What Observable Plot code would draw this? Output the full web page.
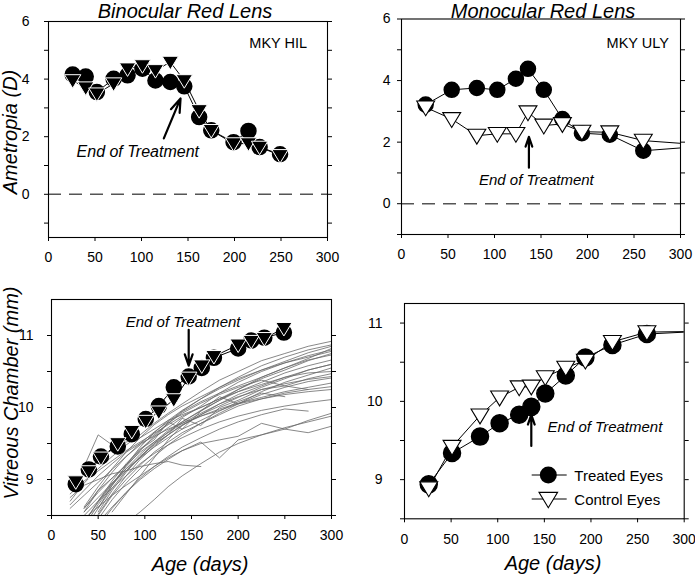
<!DOCTYPE html>
<html><head><meta charset="utf-8">
<script src="https://cdn.jsdelivr.net/npm/d3@7"></script>
<script src="https://cdn.jsdelivr.net/npm/@observablehq/plot@0.6"></script>
<style>
html,body{margin:0;padding:0;background:#fff;}
#wrap{position:relative;width:695px;height:579px;overflow:hidden;font-family:"Liberation Sans",Arial,sans-serif;color:#000;}
.lbl{position:absolute;white-space:nowrap;font-style:italic;line-height:1;transform:translate(-50%,-50%);}
.rot{transform:translate(-50%,-50%) rotate(-90deg);}
</style></head><body><div id="wrap"></div>
<script>
// ---------- tick labels ----------
const ageTicks = [0, 50, 100, 150, 200, 250, 300];
const ametropiaTicks = [0, 2, 4, 6];
const ametropiaMinorTicks = [-1, 1, 3, 5];
const vitreousTicks = [9, 10, 11];
const vitreousMinorTicks = [8.5, 9.5, 10.5];

// ---------- Binocular red lens (MKY HIL) : ametropia ----------
const binAmetAges = [26, 40, 52, 70, 85, 101, 115, 131, 146, 162, 175, 199, 215, 227, 249];
const binAmetTreated = [4.16, 4.09, 3.55, 4.01, 4.13, 4.36, 3.95, 3.90, 3.75, 2.68, 2.22, 1.81, 2.20, 1.64, 1.39];
const binAmetControl = [3.95, 3.70, 3.49, 3.84, 4.36, 4.47, 4.30, 4.59, 3.95, 2.91, 2.22, 1.76, 1.76, 1.64, 1.35];

// ---------- Monocular red lens (MKY ULY) : ametropia ----------
const monAmetAges = [26, 54, 81, 103, 123, 136, 153, 173, 194, 224, 260, 360];
const monAmetTreated = [3.22, 3.70, 3.76, 3.70, 4.06, 4.38, 3.70, 2.75, 2.29, 2.24, 1.72, 1.95];
const monAmetControl = [3.13, 2.75, 2.21, 2.27, 2.27, 2.97, 2.54, 2.59, 2.34, 2.32, 2.05, 1.83];

// ---------- Binocular : vitreous chamber ----------
const binVitAges = [26, 40, 53, 71, 86, 101, 115, 131, 147, 161, 174, 200, 214, 228, 249];
const binVitTreated = [8.935, 9.14, 9.32, 9.46, 9.63, 9.84, 10.02, 10.28, 10.43, 10.55, 10.69, 10.82, 10.93, 10.97, 11.04];
const binVitControl = [8.97, 9.11, 9.30, 9.50, 9.67, 9.81, 9.94, 10.11, 10.41, 10.58, 10.71, 10.87, 10.92, 10.96, 11.10];

// ---------- Monocular : vitreous chamber ----------
const monVitAges = [26, 51, 81, 102, 123, 136, 151, 173, 194, 223, 260, 360];
const monVitTreated = [8.94, 9.34, 9.55, 9.72, 9.83, 9.93, 10.10, 10.33, 10.56, 10.72, 10.86, 10.92];
const monVitControl = [8.89, 9.42, 9.82, 10.05, 10.18, 10.19, 10.31, 10.43, 10.52, 10.76, 10.885, 10.90];

// ---------- Normal monkeys (gray lines) : vitreous chamber ----------
const normalAges = [20, 35, 50, 65, 80, 95, 110, 125, 140, 160, 180, 200, 225, 250, 275, 300];
const normalEyes = [
  [8.70, 8.95, 9.15, 9.32, 9.48, 9.62, 9.78, 9.92, 10.05, 10.22, 10.38, 10.50, 10.65, 10.75, 10.85, 10.92],
  [null, 8.55, 8.85, 9.10, 9.32, 9.50, 9.66, 9.80, 9.95, 10.12, 10.28, 10.42, 10.58, 10.70, 10.80, 10.87],
  [null, 8.40, 8.70, 8.98, 9.22, 9.42, 9.58, 9.72, 9.86, 10.02, 10.20, 10.35, 10.50, 10.62, 10.72, 10.80],
  [null, 9.18, 9.62, 9.48, 9.52, 9.58, 9.70, 9.82, 9.90, 10.00, 10.12, 10.25, 10.40, 10.52, 10.65, 10.75],
  [null, null, 8.55, 8.85, 9.10, 9.32, 9.50, 9.66, 9.80, 9.96, 10.10, 10.25, 10.42, 10.55, 10.66, 10.73],
  [8.80, 8.98, 9.12, 9.26, 9.40, 9.52, 9.64, 9.76, 9.88, 10.00, 10.12, 10.22, 10.35, 10.48, 10.58, 10.66],
  [null, 8.35, 8.65, 8.92, 9.15, 9.35, 9.52, 9.68, 9.80, 9.95, 10.10, 10.22, 10.32, 10.42, 10.48, 10.50],
  [null, 8.60, 8.82, 9.02, 9.20, 9.38, 9.52, 9.65, 9.78, 9.92, 10.05, 10.15, 10.25, 10.33, 10.39, 10.43],
  [null, null, 8.45, 8.72, 8.95, 9.15, 9.32, 9.48, 9.62, 9.78, 9.92, 10.05, 10.18, 10.28, 10.36, 10.41],
  [null, null, 8.50, 8.78, 9.00, 9.20, 9.38, 9.52, 9.65, 9.78, 9.90, 10.02, 10.12, 10.20, 10.25, 10.29],
  [null, 8.50, 8.70, 8.88, 9.05, 9.22, 9.36, 9.48, 9.58, 9.70, 9.80, 9.88, 9.96, 10.02, 10.07, 10.11],
  [null, 8.45, 8.62, 8.78, 8.92, 9.05, 9.18, 9.30, 9.40, 9.52, 9.30, 9.55, 9.62, 9.70, 9.82, 9.92],
  [null, null, 8.40, 8.62, 8.82, 9.00, 9.15, 9.28, 9.40, 9.50, 9.55, 9.60, 9.78, 9.70, 9.65, 9.74],
  [8.75, 8.92, 9.00, 9.08, 9.12, 9.18, 9.22, 9.25, 9.20, 9.18, null, null, null, null, null, null],
  [null, 8.62, 8.90, 9.15, 9.38, 9.58, 9.76, 9.90, 10.02, 10.15, 10.28, 10.40, 10.52, 10.62, 10.70, 10.78],
  [null, null, 8.60, 8.92, 9.20, 9.45, 9.65, 9.82, 9.96, 10.12, 10.26, 10.38, 10.52, 10.64, 10.76, 10.85],
  [null, 8.30, 8.60, 8.88, 9.12, 9.32, 9.48, 9.62, 9.75, 9.90, 10.02, 10.14, 10.28, 10.40, 10.52, 10.60],
  [8.60, 8.78, 8.96, 9.14, 9.32, 9.48, 9.62, 9.78, 9.92, 10.06, 10.18, 10.28, 10.38, 10.30, 10.25, null],
  [null, null, 8.35, 8.60, 8.82, 9.02, 9.18, 9.32, 9.45, 9.58, 9.70, 9.80, 9.90, 9.98, 9.95, null],
  [null, 8.55, 8.75, 8.95, 9.12, 9.30, 9.45, 9.58, 9.70, 9.82, 9.95, 10.08, 10.20, 10.15, null, null],
  [null, null, 8.52, 8.80, 9.05, 9.28, 9.46, 9.62, 9.76, 9.88, 9.98, 10.06, 10.14, 10.22, 10.28, 10.34],
  [null, 8.42, 8.68, 8.94, 9.18, 9.40, 9.60, 9.78, 9.94, 10.08, 10.20, 10.30, 10.42, 10.55, 10.68, 10.82],
  [null, null, null, 8.55, 8.80, 9.05, 9.30, 9.55, 9.75, 9.90, 10.05, 10.18, 10.30, 10.42, 10.52, 10.60],
  [8.65, 8.85, 9.05, 9.22, 9.38, 9.50, 9.60, 9.70, 9.78, 9.88, 9.96, 10.05, 10.12, 10.18, 10.22, 10.25],
  [null, 8.60, 8.85, 9.02, 9.20, 9.42, 9.55, 9.80, 9.70, 9.95, 10.15, 10.05, 10.22, 10.35, 10.45, 10.55],
  [null, null, 8.70, 8.95, 9.15, 9.30, 9.50, 9.62, 9.85, 9.75, 10.00, 10.10, 10.25, 10.30, 10.40, 10.47],
  [null, null, null, null, 8.40, 8.55, 8.72, 8.90, 9.05, 9.22, 9.38, 9.50, 9.62, 9.72, 9.80, 9.88]
];

// ---------- annotations (data coordinates) ----------
const notes = {
  binAmet: {label: "End of Treatment", age: 96, v: 1.46, from: [124, 1.94], to: [142, 3.33], id: "MKY HIL", idAge: 247, idV: 5.24, size: 16},
  monAmet: {label: "End of Treatment", age: 145, v: 0.78, from: [137, 1.17], to: [137, 2.17], id: "MKY ULY", idAge: 254, idV: 5.22, size: 15},
  binVit: {label: "End of Treatment", age: 141, v: 11.18, from: [147, 11.08], to: [147, 10.58], size: 15},
  monVit: {label: "End of Treatment", age: 215, v: 9.67, from: [136, 9.43], to: [136, 9.83], size: 15}
};

// ---------- helpers ----------
const rows = (ages, vals) => ages.map((a, i) => ({age: a, v: vals[i]}));
const shown = d => d.filter(r => r.age <= 300);
const triangleDown = {
  draw(context, size) {
    const r = Math.sqrt(size / Math.PI);
    context.moveTo(-1.12 * r, -0.8 * r);
    context.lineTo(1.12 * r, -0.8 * r);
    context.lineTo(0, 1.05 * r);
    context.closePath();
  }
};
const normalRows = [];
normalEyes.forEach((vals, k) => vals.forEach((v, j) => { if (v != null) normalRows.push({age: normalAges[j], v, eye: k}); }));

const wrap = document.getElementById("wrap");
const FONT = "'Liberation Sans', Arial, sans-serif";
const plain = d => String(d);

function panel(o) {
  const svg = Plot.plot({
    width: o.width, height: o.height,
    marginLeft: o.ml, marginRight: o.mr, marginTop: o.mt, marginBottom: o.mb,
    x: {domain: [0, 300]},
    y: {domain: o.yDomain},
    style: {fontFamily: FONT, fontSize: "14px", color: "black", background: "transparent", overflow: "visible"},
    marks: [
      ...o.marks,
      Plot.axisX({ticks: ageTicks, tickSize: 4, tickPadding: 11, tickFormat: plain, label: null}),
      Plot.axisY({ticks: o.yMajor, tickSize: 4, tickPadding: o.yPad, tickFormat: plain, label: null}),
      Plot.axisY({ticks: o.yMinor, tickSize: 4, tickFormat: () => "", label: null}),
      Plot.axisY({anchor: "right", ticks: [...o.yMajor, ...o.yMinor], tickSize: 4, tickFormat: () => "", label: null}),
      Plot.frame({stroke: "black", strokeWidth: 1.1})
    ]
  });
  svg.style.position = "absolute";
  svg.style.left = o.left + "px";
  svg.style.top = o.top + "px";
  wrap.appendChild(svg);
}

function noteMarks(n) {
  const m = [
    Plot.arrow([n], {x1: d => d.from[0], y1: d => d.from[1], x2: d => d.to[0], y2: d => d.to[1],
      stroke: "black", strokeWidth: 2.2, headLength: 11, headAngle: 38}),
    Plot.text([n], {x: "age", y: "v", text: "label", fontStyle: "italic", fontSize: n.size, fill: "black"})
  ];
  if (n.id) m.push(Plot.text([n], {x: "idAge", y: "idV", text: "id", fontSize: 14.5, fill: "black"}));
  return m;
}

// Top-left: binocular ametropia
const bAT = rows(binAmetAges, binAmetTreated), bAC = rows(binAmetAges, binAmetControl);
panel({left: 0, top: 0, width: 340, height: 270, ml: 48, mr: 13, mt: 21, mb: 33,
  yDomain: [-1.5, 6], yMajor: ametropiaTicks, yMinor: ametropiaMinorTicks, yPad: 15,
  marks: [
    Plot.ruleY([0], {stroke: "#555", strokeWidth: 1.5, strokeDasharray: "13,8"}),
    Plot.line(bAT, {x: "age", y: "v", stroke: "black", strokeWidth: 1}),
    Plot.line(bAC, {x: "age", y: "v", stroke: "black", strokeWidth: 1}),
    Plot.dot(bAT, {x: "age", y: "v", r: 7.5, fill: "black", stroke: "black"}),
    Plot.dot(bAC, {x: "age", y: "v", r: 7.3, symbol: triangleDown, fill: "black", stroke: "white", strokeWidth: 1}),
    ...noteMarks(notes.binAmet)
  ]});

// Top-right: monocular ametropia
const mAT = rows(monAmetAges, monAmetTreated), mAC = rows(monAmetAges, monAmetControl);
panel({left: 345, top: 0, width: 345, height: 270, ml: 56, mr: 10, mt: 18.5, mb: 36,
  yDomain: [-1, 6], yMajor: ametropiaTicks, yMinor: ametropiaMinorTicks, yPad: 7,
  marks: [
    Plot.ruleY([0], {stroke: "#555", strokeWidth: 1.5, strokeDasharray: "13,8"}),
    Plot.line(mAT, {x: "age", y: "v", stroke: "black", strokeWidth: 1, clip: true}),
    Plot.line(mAC, {x: "age", y: "v", stroke: "black", strokeWidth: 1, clip: true}),
    Plot.dot(shown(mAT), {x: "age", y: "v", r: 7.5, fill: "black", stroke: "black"}),
    Plot.dot(shown(mAC), {x: "age", y: "v", r: 8, symbol: triangleDown, fill: "white", stroke: "black", strokeWidth: 1.1}),
    ...noteMarks(notes.monAmet)
  ]});

// Bottom-left: binocular vitreous chamber + normals
const bVT = rows(binVitAges, binVitTreated), bVC = rows(binVitAges, binVitControl);
panel({left: 0, top: 280, width: 340, height: 276, ml: 51, mr: 9, mt: 19, mb: 41,
  yDomain: [8.5, 11.5], yMajor: vitreousTicks, yMinor: vitreousMinorTicks, yPad: 14,
  marks: [
    Plot.line(normalRows, {x: "age", y: "v", z: "eye", stroke: "#6a6a6a", strokeWidth: 0.8, clip: true}),
    Plot.line(bVT, {x: "age", y: "v", stroke: "black", strokeWidth: 1}),
    Plot.line(bVC, {x: "age", y: "v", stroke: "black", strokeWidth: 1}),
    Plot.dot(bVT, {x: "age", y: "v", r: 7.5, fill: "black", stroke: "black"}),
    Plot.dot(bVC, {x: "age", y: "v", r: 7.3, symbol: triangleDown, fill: "black", stroke: "white", strokeWidth: 1}),
    ...noteMarks(notes.binVit)
  ]});

// Bottom-right: monocular vitreous chamber
const mVT = rows(monVitAges, monVitTreated), mVC = rows(monVitAges, monVitControl);
panel({left: 345, top: 280, width: 345, height: 276, ml: 59, mr: 6.3, mt: 23, mb: 37.7,
  yDomain: [8.5, 11.25], yMajor: vitreousTicks, yMinor: vitreousMinorTicks, yPad: 18,
  marks: [
    Plot.line(mVT, {x: "age", y: "v", stroke: "black", strokeWidth: 1, clip: true}),
    Plot.line(mVC, {x: "age", y: "v", stroke: "black", strokeWidth: 1, clip: true}),
    Plot.dot(shown(mVT), {x: "age", y: "v", r: 8.5, fill: "black", stroke: "black"}),
    Plot.dot(shown(mVC), {x: "age", y: "v", r: 8, symbol: triangleDown, fill: "white", stroke: "black", strokeWidth: 1.1}),
    ...noteMarks(notes.monVit)
  ]});

// ---------- titles and axis labels ----------
function label(text, x, y, size, rot) {
  const d = document.createElement("div");
  d.className = "lbl" + (rot ? " rot" : "");
  d.textContent = text;
  d.style.left = x + "px"; d.style.top = y + "px"; d.style.fontSize = size + "px";
  wrap.appendChild(d);
}
label("Binocular Red Lens", 185, 11, 20);
label("Monocular Red Lens", 543, 10.5, 20);
label("Ametropia (D)", 10, 132, 20, true);
label("Vitreous Chamber (mm)", 11, 393, 20, true);
label("Age (days)", 200, 564, 20);
label("Age (days)", 553, 563, 20);

// ---------- legend ----------
const ns = "http://www.w3.org/2000/svg";
const leg = document.createElementNS(ns, "svg");
leg.setAttribute("width", 150); leg.setAttribute("height", 50);
leg.style.position = "absolute"; leg.style.left = "528px"; leg.style.top = "462px";
const legendItems = [{name: "Treated Eyes", kind: "circle"}, {name: "Control Eyes", kind: "triangle"}];
legendItems.forEach((it, i) => {
  const cy = 13 + i * 24;
  const ln = document.createElementNS(ns, "line");
  ln.setAttribute("x1", 3.7); ln.setAttribute("x2", 38.7); ln.setAttribute("y1", cy); ln.setAttribute("y2", cy);
  ln.setAttribute("stroke", "black"); leg.appendChild(ln);
  let s;
  if (it.kind === "circle") {
    s = document.createElementNS(ns, "circle");
    s.setAttribute("cx", 20.3); s.setAttribute("cy", cy); s.setAttribute("r", 8.5); s.setAttribute("fill", "black");
  } else {
    s = document.createElementNS(ns, "path");
    const r = 8.3;
    s.setAttribute("d", `M${20.3 - 1.12 * r},${cy - 0.8 * r}L${20.3 + 1.12 * r},${cy - 0.8 * r}L20.3,${cy + 1.05 * r}Z`);
    s.setAttribute("fill", "white"); s.setAttribute("stroke", "black"); s.setAttribute("stroke-width", 1.1);
  }
  leg.appendChild(s);
  const t = document.createElementNS(ns, "text");
  t.setAttribute("x", 46.3); t.setAttribute("y", cy + 5.5);
  t.setAttribute("font-family", FONT); t.setAttribute("font-size", 15);
  t.textContent = it.name; leg.appendChild(t);
});
wrap.appendChild(leg);
</script></body></html>
